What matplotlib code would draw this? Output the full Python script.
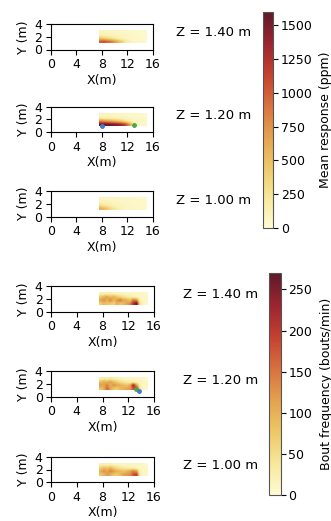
from matplotlib import pyplot as plt
from matplotlib.colors import LinearSegmentedColormap
import numpy as np

# grid: 15 columns (x 7.5..15, 0.5 m), 4 rows (y 1..3, 0.5 m), rows listed bottom to top
x_extent = [7.5, 15.0, 1.0, 3.0]
z_labels = ['Z = 1.40 m', 'Z = 1.20 m', 'Z = 1.00 m']

resp_140 = [
    [1000, 1050, 980, 880, 760, 620, 480, 330, 190, 110, 80, 62, 52, 42, 36],
    [420, 380, 320, 260, 200, 150, 110, 85, 68, 58, 52, 46, 42, 38, 35],
    [120, 110, 100, 92, 84, 77, 70, 65, 60, 55, 50, 45, 40, 38, 35],
    [90, 85, 80, 75, 70, 65, 60, 55, 50, 45, 40, 38, 35, 32, 30],
]
resp_120 = [
    [1550, 1600, 1580, 1550, 1500, 1450, 1380, 1250, 1050, 720, 360, 130, 65, 50, 45],
    [820, 760, 700, 640, 580, 520, 450, 360, 260, 160, 95, 65, 52, 48, 45],
    [130, 122, 114, 106, 98, 90, 84, 78, 72, 64, 56, 50, 45, 42, 40],
    [85, 82, 78, 75, 70, 66, 62, 58, 54, 50, 46, 42, 40, 38, 35],
]
resp_100 = [
    [600, 520, 420, 320, 235, 170, 125, 98, 80, 70, 62, 56, 50, 45, 42],
    [260, 215, 175, 140, 112, 95, 82, 74, 67, 61, 56, 51, 46, 44, 40],
    [105, 98, 92, 86, 80, 75, 70, 65, 60, 56, 52, 48, 44, 42, 40],
    [80, 78, 75, 72, 68, 64, 60, 56, 52, 48, 45, 42, 40, 38, 35],
]

bout_140 = [
    [70, 90, 80, 75, 65, 100, 80, 90, 110, 130, 210, 265, 45, 15, 10],
    [110, 130, 100, 140, 90, 120, 150, 110, 100, 80, 150, 130, 25, 10, 10],
    [75, 95, 115, 85, 105, 75, 60, 45, 35, 28, 22, 15, 10, 10, 10],
    [20, 25, 20, 25, 20, 18, 15, 12, 10, 10, 10, 10, 10, 10, 5],
]
bout_120 = [
    [80, 100, 165, 110, 80, 70, 90, 100, 110, 120, 180, 210, 35, 10, 10],
    [120, 110, 140, 100, 130, 110, 100, 90, 80, 100, 230, 120, 20, 10, 10],
    [85, 105, 95, 115, 85, 70, 50, 38, 30, 24, 20, 15, 10, 10, 10],
    [25, 30, 25, 35, 25, 18, 15, 12, 10, 10, 10, 10, 10, 10, 5],
]
bout_100 = [
    [80, 90, 120, 100, 80, 70, 90, 110, 120, 130, 175, 200, 25, 10, 10],
    [100, 130, 110, 140, 120, 100, 90, 80, 90, 110, 140, 115, 20, 10, 10],
    [65, 85, 75, 95, 65, 50, 40, 34, 28, 22, 20, 15, 10, 10, 10],
    [20, 25, 20, 25, 18, 15, 12, 10, 10, 10, 10, 10, 10, 10, 5],
]

# source / sensor markers (x, y)
resp_src = (8.1, 1.0)
resp_snk = (13.0, 1.15)
bout_src = (13.6, 0.95)
bout_snk = (13.2, 1.2)

resp_ticks = [0, 250, 500, 750, 1000, 1250, 1500]
bout_ticks = [0, 50, 100, 150, 200, 250]

cmap = LinearSegmentedColormap.from_list(
    'ylorbrn', ['#fffcd4', '#f6e79a', '#edc766', '#e3a04e', '#d8703f',
                '#c4402f', '#9b2430', '#5e1a2a'])

W, H = 331, 521


def px_rect(left, top, width, height):
    return [left / W, 1 - (top + height) / H, width / W, height / H]


def style_panel(ax):
    ax.set_xlim(0, 16)
    ax.set_ylim(0, 4)
    ax.set_aspect('equal')
    ax.set_xticks([0, 4, 8, 12, 16])
    ax.set_yticks([0, 2, 4])
    ax.tick_params(labelsize=9, length=3.5, pad=2.5)
    ax.set_xlabel('X(m)', fontsize=9, labelpad=2)
    ax.set_ylabel('Y (m)', fontsize=9, labelpad=3)


fig = plt.figure(figsize=(W / 100, H / 100), dpi=100)

resp_sets = [resp_140, resp_120, resp_100]
bout_sets = [bout_140, bout_120, bout_100]
resp_tops = [24, 106.7, 191]
bout_tops = [286, 371, 456.5]

im = None
for i, (data, top) in enumerate(zip(resp_sets, resp_tops)):
    ax = fig.add_axes(px_rect(50.7, top, 102, 25.5))
    im = ax.imshow(np.array(data), origin='lower', extent=x_extent, cmap=cmap,
                   vmin=0, vmax=1600, interpolation='bilinear', aspect='equal')
    if i == 1:
        ax.plot(*resp_src, 'o', color='#4a78c8', ms=2.5)
        ax.plot(*resp_snk, 'o', color='#4aa84a', ms=2.5)
    style_panel(ax)
    fig.text(176 / W, 1 - (top + 9) / H, z_labels[i], fontsize=9.5, va='center')

cax = fig.add_axes(px_rect(263.3, 11.7, 10, 216.3))
cb = fig.colorbar(im, cax=cax, ticks=resp_ticks)
cb.ax.tick_params(labelsize=9, length=3.5, pad=2)
cb.set_label('Mean response (ppm)', fontsize=9)
cb.ax.yaxis.set_label_coords((319.5 - 263.3) / 10, 0.5)
cb.outline.set_edgecolor('#555555')

for i, (data, top) in enumerate(zip(bout_sets, bout_tops)):
    ax = fig.add_axes(px_rect(51, top, 103, 26))
    im = ax.imshow(np.array(data), origin='lower', extent=x_extent, cmap=cmap,
                   vmin=0, vmax=270, interpolation='bilinear', aspect='equal')
    if i == 1:
        ax.plot(*bout_snk, 'o', color='#4aa84a', ms=2.5)
        ax.plot(*bout_src, 'o', color='#4a78c8', ms=2.5)
    style_panel(ax)
    fig.text(183 / W, 1 - (top + 9) / H, z_labels[i], fontsize=9.5, va='center')

cax = fig.add_axes(px_rect(269, 273, 11.7, 222))
cb = fig.colorbar(im, cax=cax, ticks=bout_ticks)
cb.ax.tick_params(labelsize=9, length=3.5, pad=2)
cb.set_label('Bout frequency (bouts/min)', fontsize=9)
cb.ax.yaxis.set_label_coords((319.5 - 269) / 11.7, 0.5)
cb.outline.set_edgecolor('#555555')

fig.savefig('out.png', dpi=100, facecolor='white')
